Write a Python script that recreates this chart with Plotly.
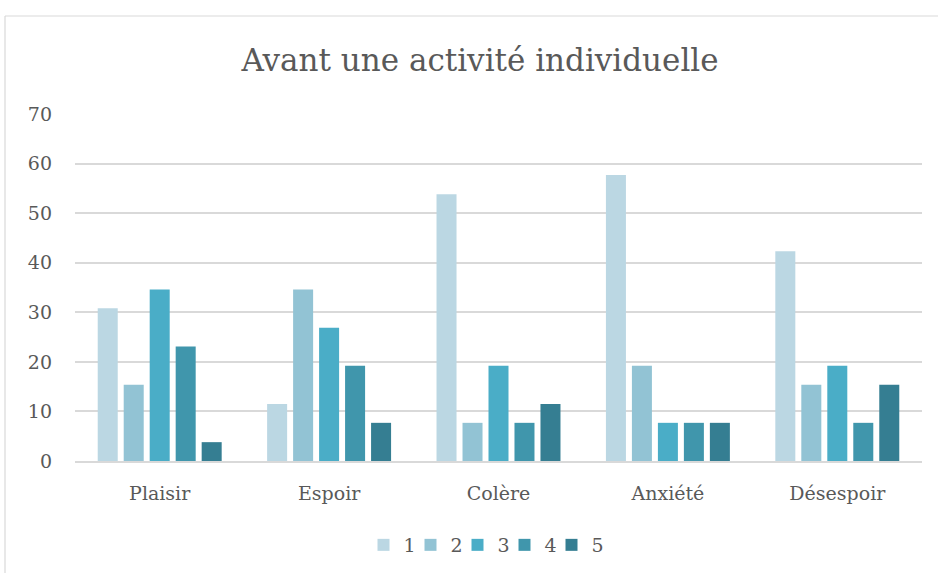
import plotly.graph_objects as go

categories = ["Plaisir", "Espoir", "Colère", "Anxiété", "Désespoir"]
series_names = ["1", "2", "3", "4", "5"]
s1 = [30.8, 11.5, 53.8, 57.7, 42.3]
s2 = [15.4, 34.6, 7.7, 19.2, 15.4]
s3 = [34.6, 26.9, 19.2, 7.7, 19.2]
s4 = [23.1, 19.2, 7.7, 7.7, 7.7]
s5 = [3.8, 7.7, 11.5, 7.7, 15.4]
series_values = [s1, s2, s3, s4, s5]
colors = ["#BBD7E3", "#92C3D4", "#4AADC7", "#4096AC", "#357E92"]
y_ticks = [0, 10, 20, 30, 40, 50, 60, 70]

FONT = "DejaVu Serif"
TXT = "#595959"

fig = go.Figure()
for name, vals, c in zip(series_names, series_values, colors):
    fig.add_trace(go.Bar(x=categories, y=vals, name=name, marker_color=c,
                         marker_line_width=0))

W, H = 938, 573
L, R, T, B = 75, 16, 114, 112
pw, ph = W - L - R, H - T - B

def px2paper_x(px):
    return (px - L) / pw

def px2paper_y(py):
    return (H - B - py) / ph

fig.add_shape(type="line", xref="paper", yref="paper",
              x0=px2paper_x(5), x1=px2paper_x(960), y0=px2paper_y(16), y1=px2paper_y(16),
              line=dict(color="#D9D9D9", width=1.2))
fig.add_shape(type="line", xref="paper", yref="paper",
              x0=px2paper_x(5), x1=px2paper_x(5), y0=px2paper_y(16), y1=px2paper_y(600),
              line=dict(color="#D9D9D9", width=1.2))

fig.update_layout(
    width=W, height=H,
    margin=dict(l=L, r=R, t=T, b=B),
    paper_bgcolor="white", plot_bgcolor="white",
    barmode="group", bargap=0.233, bargroupgap=0.23,
    title=dict(text="Avant une activité individuelle", x=480 / W, xanchor="center",
               y=1 - 60 / H, yanchor="middle", xref="container", yref="container",
               font=dict(family=FONT, size=31, color=TXT)),
    font=dict(family=FONT, color=TXT, size=19),
    xaxis=dict(showgrid=False, showline=True, linecolor="#D9D9D9", linewidth=1.5,
               ticks="", ticklabelstandoff=14, tickfont=dict(size=19, color=TXT)),
    yaxis=dict(range=[0, 70], tickvals=y_ticks, showgrid=True, gridcolor="#D9D9D9",
               gridwidth=1.5, zeroline=False, showline=False, ticks="",
               ticklabelstandoff=22, tickfont=dict(size=19, color=TXT)),
    legend=dict(orientation="h", x=481 / W, xanchor="center", xref="container",
                y=1 - 545 / H, yanchor="middle", yref="container",
                font=dict(size=19, color=TXT), itemwidth=30, traceorder="normal",
                entrywidth=2, bgcolor="rgba(0,0,0,0)"),
)

post = """
document.body.style.margin='0';
var gd = document.querySelector('.plotly-graph-div');
function unclip(){
  document.querySelectorAll('.legend .scrollbox, .legend').forEach(function(e){
    e.removeAttribute('clip-path');
    e.style.clipPath = 'none';
  });
}
unclip();
if (gd && gd.on) { gd.on('plotly_afterplot', unclip); }
"""

fig.write_html("out.html", post_script=post, config={"displayModeBar": False})
